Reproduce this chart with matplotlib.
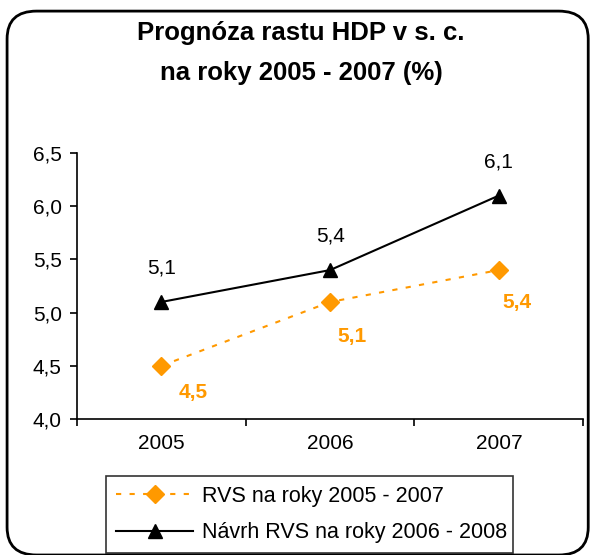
import matplotlib.pyplot as plt
from matplotlib.patches import FancyBboxPatch

plt.rcParams['font.family'] = ['Liberation Sans', 'DejaVu Sans']

# data
roky = ['2005', '2006', '2007']
rvs_2005 = [4.5, 5.1, 5.4]
navrh_2006 = [5.1, 5.4, 6.1]
y_ticks = [4.0, 4.5, 5.0, 5.5, 6.0, 6.5]

oranzova = '#FF9900'

fig = plt.figure(figsize=(5.9, 5.55), dpi=100)

# zaoblený rámik okolo grafu
ramik = FancyBboxPatch((0.012, 0.0), 0.985, 0.98, boxstyle='round,pad=0,rounding_size=0.05',
                       transform=fig.transFigure, fill=False, edgecolor='black', linewidth=2)
fig.patches.append(ramik)

ax = fig.add_axes([0.1305, 0.245, 0.858, 0.4793])
x = list(range(len(roky)))

ax.plot(x, rvs_2005, color=oranzova, linestyle=(0, (2.5, 4)), linewidth=1.5,
        marker='D', markersize=9, label='RVS na roky 2005 - 2007')
ax.plot(x, navrh_2006, color='black', linestyle='-', linewidth=1.5,
        marker='^', markersize=10, label='Návrh RVS na roky 2006 - 2008')

# popisky hodnôt
for xi, v in zip(x, navrh_2006):
    ax.annotate(f'{v:.1f}'.replace('.', ','), (xi, v), xytext=(0, 34), textcoords='offset pixels',
                ha='center', va='center', fontsize=15, color='black')
offs = [(32, -27), (22, -35), (18, -32)]
for xi, v, o in zip(x, rvs_2005, offs):
    ax.annotate(f'{v:.1f}'.replace('.', ','), (xi, v), xytext=o, textcoords='offset pixels',
                ha='center', va='center', fontsize=15, color=oranzova, fontweight='bold')

ax.set_xlim(-0.5, 2.5)
ax.set_ylim(4.0, 6.5)
ax.set_yticks(y_ticks)
ax.set_yticklabels([f'{t:.1f}'.replace('.', ',') for t in y_ticks])
ax.set_xticks([-0.5, 0.5, 1.5, 2.5])
ax.set_xticklabels([])
ax.set_xticks(x, minor=True)
ax.set_xticklabels(roky, minor=True)
ax.tick_params(axis='x', which='minor', length=0, pad=11, labelsize=15)
ax.tick_params(axis='x', which='major', length=5, direction='out', width=1.2)
ax.tick_params(axis='y', length=5, direction='out', width=1.2, labelsize=15, pad=6)
for s in ['top', 'right']:
    ax.spines[s].set_visible(False)
for s in ['left', 'bottom']:
    ax.spines[s].set_linewidth(1.2)

fig.text(0.51, 0.94, 'Prognóza rastu HDP v s. c.', ha='center', va='center',
         fontsize=18.5, fontweight='bold')
fig.text(0.51, 0.868, 'na roky 2005 - 2007 (%)', ha='center', va='center',
         fontsize=18.5, fontweight='bold')

leg = fig.legend(loc='lower left', bbox_to_anchor=(0.18, 0.004, 0.69, 0.142),
                 mode='expand', fancybox=False, edgecolor='black', fontsize=15.5,
                 handlelength=3.6, borderaxespad=0, labelspacing=0.7, borderpad=0.45,
                 handletextpad=0.4)
leg.get_frame().set_linewidth(1.2)

plt.savefig('out.png', dpi=100)
